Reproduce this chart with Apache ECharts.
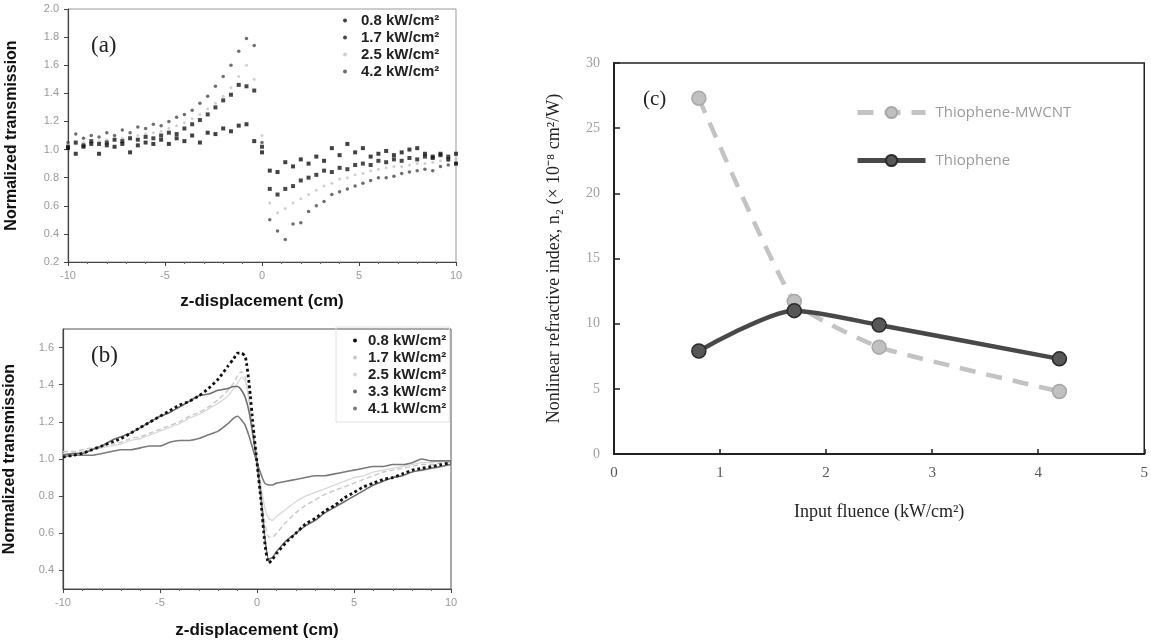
<!DOCTYPE html>
<html>
<head>
<meta charset="utf-8">
<script src="https://cdn.jsdelivr.net/npm/echarts@6/dist/echarts.min.js"></script>
<style>
html, body { margin: 0; padding: 0; background: #fff; }
#chart { width: 1151px; height: 640px; }
</style>
</head>
<body>
<div id="chart"></div>
<script>
/* 图 (a) ：z 扫描散点 */
var zA = [-10, -9.6, -9.2, -8.8, -8.4, -8, -7.6, -7.2, -6.8, -6.4, -6, -5.6, -5.2, -4.8, -4.4, -4, -3.6, -3.2, -2.8, -2.4, -2, -1.6, -1.2, -0.8, -0.4, 0,
	0.4, 0.8, 1.2, 1.6, 2, 2.4, 2.8, 3.2, 3.6, 4, 4.4, 4.8, 5.2, 5.6, 6, 6.4, 6.8, 7.2, 7.6, 8, 8.4, 8.8, 9.2, 9.6, 10];
var namesA = ["0.8 kW/cm²", "1.7 kW/cm²", "2.5 kW/cm²", "4.2 kW/cm²"];
var a08 = [1.01, 0.97, 1.02, 1.04, 0.97, 1.03, 1.02, 1.04, 0.98, 1.03, 1.05, 1.04, 1.07, 1.04, 1.08, 1.06, 1.10, 1.05, 1.12, 1.11, 1.15, 1.13, 1.17, 1.18, 1.06, 0.98,
	0.85, 0.84, 0.91, 0.88, 0.93, 0.90, 0.95, 0.92, 1.01, 0.96, 1.04, 0.98, 1.01, 0.95, 0.97, 0.99, 0.96, 0.98, 1.00, 1.01, 0.97, 0.95, 0.97, 0.93, 0.90];
var a17 = [1.02, 1.05, 1.03, 1.06, 1.04, 1.05, 1.07, 1.06, 1.08, 1.07, 1.09, 1.08, 1.10, 1.12, 1.11, 1.15, 1.18, 1.21, 1.25, 1.30, 1.35, 1.39, 1.46, 1.45, 1.42, 1.02,
	0.72, 0.68, 0.72, 0.74, 0.78, 0.80, 0.82, 0.85, 0.84, 0.87, 0.86, 0.89, 0.90, 0.89, 0.92, 0.91, 0.93, 0.92, 0.94, 0.93, 0.95, 0.94, 0.96, 0.95, 0.97];
var a25 = [1.03, 1.04, 1.05, 1.05, 1.06, 1.07, 1.07, 1.08, 1.09, 1.10, 1.11, 1.12, 1.13, 1.15, 1.17, 1.19, 1.22, 1.25, 1.29, 1.33, 1.38, 1.44, 1.52, 1.60, 1.50, 1.10,
	0.62, 0.55, 0.58, 0.62, 0.65, 0.68, 0.71, 0.74, 0.76, 0.79, 0.80, 0.82, 0.83, 0.85, 0.86, 0.87, 0.88, 0.88, 0.89, 0.90, 0.90, 0.91, 0.92, 0.92, 0.93];
var a42 = [1.05, 1.11, 1.08, 1.10, 1.09, 1.12, 1.10, 1.14, 1.12, 1.16, 1.15, 1.18, 1.17, 1.20, 1.23, 1.25, 1.28, 1.33, 1.38, 1.45, 1.52, 1.60, 1.70, 1.79, 1.74, 1.05,
	0.50, 0.42, 0.36, 0.47, 0.48, 0.56, 0.60, 0.63, 0.68, 0.70, 0.72, 0.74, 0.76, 0.78, 0.80, 0.80, 0.81, 0.83, 0.84, 0.85, 0.86, 0.85, 0.88, 0.89, 0.90];

/* 图 (b) ：z 扫描曲线 */
var zB = [-10, -9.5, -9, -8.5, -8, -7.5, -7, -6.5, -6, -5.5, -5, -4.5, -4, -3.5, -3, -2.5, -2, -1.5,
	-1.2, -1, -0.8, -0.6, -0.4, -0.2, 0, 0.2, 0.4, 0.6, 0.8, 1,
	1.5, 2, 2.5, 3, 3.5, 4, 4.5, 5, 5.5, 6, 6.5, 7, 7.5, 8, 8.5, 9, 9.5, 10];
var namesB = ["0.8 kW/cm²\u200b", "1.7 kW/cm²\u200b", "2.5 kW/cm²\u200b", "3.3 kW/cm²\u200b", "4.1 kW/cm²\u200b"];
var b08 = [1.01, 1.02, 1.03, 1.05, 1.07, 1.09, 1.11, 1.14, 1.17, 1.20, 1.23, 1.26, 1.29, 1.31, 1.34, 1.38, 1.43, 1.50,
	1.54, 1.57, 1.57, 1.55, 1.40, 1.18, 0.98, 0.78, 0.55, 0.44, 0.46, 0.49,
	0.55, 0.60, 0.65, 0.68, 0.72, 0.75, 0.79, 0.82, 0.85, 0.87, 0.89, 0.90, 0.92, 0.94, 0.95, 0.96, 0.97, 0.98];
var b17 = [1.04, 1.04, 1.05, 1.06, 1.07, 1.08, 1.09, 1.11, 1.12, 1.14, 1.16, 1.18, 1.20, 1.23, 1.25, 1.28, 1.32, 1.37,
	1.41, 1.45, 1.47, 1.44, 1.32, 1.16, 1.00, 0.82, 0.66, 0.58, 0.58, 0.60,
	0.66, 0.71, 0.75, 0.78, 0.81, 0.83, 0.85, 0.87, 0.89, 0.91, 0.93, 0.94, 0.95, 0.96, 0.97, 0.97, 0.98, 0.98];
var b25 = [1.03, 1.03, 1.04, 1.05, 1.06, 1.07, 1.08, 1.10, 1.11, 1.13, 1.15, 1.17, 1.19, 1.22, 1.24, 1.27, 1.30, 1.34,
	1.38, 1.41, 1.44, 1.42, 1.30, 1.14, 0.99, 0.86, 0.74, 0.68, 0.67, 0.69,
	0.73, 0.77, 0.80, 0.82, 0.84, 0.86, 0.88, 0.90, 0.91, 0.93, 0.94, 0.95, 0.96, 0.97, 0.98, 0.98, 0.99, 0.99];
var b33 = [1.02, 1.03, 1.03, 1.05, 1.07, 1.10, 1.12, 1.14, 1.17, 1.20, 1.23, 1.25, 1.28, 1.31, 1.34, 1.35, 1.37, 1.38,
	1.39, 1.39, 1.37, 1.33, 1.25, 1.12, 0.98, 0.80, 0.58, 0.46, 0.47, 0.50,
	0.56, 0.60, 0.64, 0.67, 0.71, 0.74, 0.77, 0.80, 0.83, 0.86, 0.88, 0.90, 0.91, 0.93, 0.94, 0.95, 0.96, 0.97];
var b41 = [1.01, 1.02, 1.02, 1.02, 1.03, 1.04, 1.05, 1.05, 1.06, 1.07, 1.07, 1.09, 1.10, 1.10, 1.11, 1.13, 1.15, 1.19,
	1.22, 1.23, 1.21, 1.18, 1.12, 1.05, 0.98, 0.92, 0.87, 0.86, 0.86, 0.87,
	0.88, 0.89, 0.90, 0.91, 0.91, 0.92, 0.93, 0.94, 0.95, 0.96, 0.96, 0.97, 0.97, 0.98, 1.00, 0.99, 0.99, 0.99];
var ticksB = [0.4, 0.6, 0.8, 1.0, 1.2, 1.4, 1.6];

/* 图 (c) ：非线性折射率 */
var fluence = [0.8, 1.7, 2.5, 4.2];
var n2Mwcnt = [27.3, 11.7, 8.2, 4.8];
var n2Thio = [7.9, 11.0, 9.9, 7.3];

function pairs(xs, ys) {
	var out = [];
	for(var i = 0; i < xs.length; i++) {
		out.push([xs[i], ys[i]]);
	}
	return out;
}

var sans = "Liberation Sans";
var serif = "Liberation Serif";

var chart = echarts.init(document.getElementById("chart"));

function zAxisX(gridIndex) {
	return {
		type: "value", gridIndex: gridIndex, min: -10, max: 10, interval: 5,
		name: "z-displacement (cm)", nameLocation: "middle", nameGap: gridIndex == 0 ? 31 : 33,
		nameTextStyle: { fontFamily: sans, fontWeight: "bold", fontSize: 17, color: "#111" },
		axisLine: { onZero: false, lineStyle: { color: "#444", width: 1.2 } },
		axisTick: { length: 4, lineStyle: { color: "#444" } },
		minorTick: { show: true, splitNumber: 5, length: 2, lineStyle: { color: "#666" } },
		axisLabel: { fontFamily: sans, fontSize: 11, color: "#999", margin: 8 },
		splitLine: { show: false }
	};
}

function zAxisY(gridIndex) {
	var ax = {
		type: "value", gridIndex: gridIndex,
		name: "Normalized transmission", nameLocation: "middle", nameGap: gridIndex == 0 ? 48 : 45,
		nameTextStyle: { fontFamily: sans, fontWeight: "bold", fontSize: 16, color: "#111" },
		axisLine: { show: true, onZero: false, lineStyle: { color: "#444", width: 1.2 } },
		axisTick: { show: true, length: 4, lineStyle: { color: "#444" } },
		axisLabel: {
			fontFamily: sans, fontSize: 11, color: "#999", margin: 9,
			formatter: function(v) { return v.toFixed(1); }
		},
		splitLine: { show: false }
	};
	if(gridIndex == 0) {
		ax.min = 0.2; ax.max = 2.0; ax.interval = 0.2;
	} else {
		ax.min = 0.3; ax.max = 1.7;
		ax.axisLabel.customValues = ticksB;
		ax.axisTick.customValues = ticksB;
	}
	return ax;
}

var seriesList = [];
/* (a) 散点 */
var aData = [a08, a17, a25, a42];
var aColor = ["#111", "#1a1a1a", "#c4c4c4", "#4a4a4a"];
var aSize = [4, 4, 3, 3.5];
var aSym = ["rect", "rect", "circle", "circle"];
for(var i = 0; i < aData.length; i++) {
	seriesList.push({
		name: namesA[i], type: "scatter", xAxisIndex: 0, yAxisIndex: 0,
		symbol: aSym[i], symbolSize: aSize[i],
		itemStyle: { color: aColor[i] },
		data: pairs(zA, aData[i]), z: 10 - i
	});
}
/* (b) 曲线 */
var bData = [b08, b17, b25, b33, b41];
var bColor = ["#111", "#c8c8c8", "#d6d6d6", "#6e6e6e", "#7a7a7a"];
var bType = ["dotted", [5, 3], "solid", "solid", "solid"];
var bWidth = [2.8, 1.4, 1.2, 1.6, 1.6];
for(var j = 0; j < bData.length; j++) {
	seriesList.push({
		name: namesB[j], type: "line", xAxisIndex: 1, yAxisIndex: 1,
		showSymbol: false, symbol: "none", smooth: 0.2,
		lineStyle: { color: bColor[j], width: bWidth[j], type: bType[j] },
		itemStyle: { color: bColor[j] },
		data: pairs(zB, bData[j]), z: j == 0 ? 10 : 5
	});
}
/* (c) */
seriesList.push({
	name: "Thiophene-MWCNT", type: "line", xAxisIndex: 2, yAxisIndex: 2,
	smooth: 0.15, symbol: "circle", symbolSize: 14,
	lineStyle: { color: "#c3c3c3", width: 4.5, type: [16, 11] },
	itemStyle: { color: "#c0c0c0", borderColor: "#a8a8a8", borderWidth: 1.5 },
	data: pairs(fluence, n2Mwcnt)
});
seriesList.push({
	name: "Thiophene", type: "line", xAxisIndex: 2, yAxisIndex: 2,
	smooth: 0.25, symbol: "circle", symbolSize: 14,
	lineStyle: { color: "#484848", width: 4.5 },
	itemStyle: { color: "#575757", borderColor: "#2a2a2a", borderWidth: 1.5 },
	data: pairs(fluence, n2Thio)
});

function dotItems(names) {
	return names.map(function(n) { return { name: n, icon: "circle" }; });
}

var legendText = { fontFamily: sans, fontWeight: "bold", fontSize: 15, color: "#222", lineHeight: 15 };

var option = {
	animation: false,
	backgroundColor: "#fff",
	title: [
		{ text: "(a)", left: 86, top: 29, textStyle: { fontFamily: serif, fontSize: 23, fontWeight: "normal", color: "#222" } },
		{ text: "(b)", left: 86, top: 339, textStyle: { fontFamily: serif, fontSize: 23, fontWeight: "normal", color: "#222" } },
		{ text: "(c)", left: 638, top: 84, textStyle: { fontFamily: serif, fontSize: 21, fontWeight: "normal", color: "#222" } }
	],
	grid: [
		{ left: 68, top: 9, width: 388, height: 253, show: true, borderColor: "#999", borderWidth: 1 },
		{ left: 63, top: 329, width: 388, height: 266, show: true, borderColor: "#555", borderWidth: 1 },
		{ left: 614, top: 63, width: 533, height: 391, show: true, borderColor: "#222", borderWidth: 1.5 }
	],
	legend: [{
		data: dotItems(namesA), orient: "vertical", left: 338, top: 8,
		padding: [5, 5, 5, 5],
		itemWidth: 4, itemHeight: 4, itemGap: 2,
		textStyle: Object.assign({}, legendText, { padding: [0, 0, 0, 9] })
	}, {
		data: dotItems(namesB), orient: "vertical", left: 336, top: 327,
		padding: [6, 3, 6, 17], borderColor: "#e2e2e2", borderWidth: 1,
		itemWidth: 4, itemHeight: 4, itemGap: 2,
		textStyle: Object.assign({}, legendText, { padding: [0, 0, 0, 6] })
	}, {
		data: ["Thiophene-MWCNT", "Thiophene"], orient: "vertical", left: 850, top: 100,
		itemWidth: 68, itemHeight: 14, itemGap: 33,
		lineStyle: { width: 5 },
		textStyle: { fontFamily: "Open Sans", fontSize: 15, color: "#9a9a9a", padding: [0, 0, 0, 5] }
	}],
	xAxis: [zAxisX(0), zAxisX(1), {
		type: "value", gridIndex: 2, min: 0, max: 5, interval: 1,
		name: "Input fluence (kW/cm²)", nameLocation: "middle", nameGap: 49,
		nameTextStyle: { fontFamily: serif, fontSize: 18, color: "#222" },
		axisLine: { lineStyle: { color: "#222", width: 2 } },
		axisTick: { inside: true, length: 5, lineStyle: { color: "#222", width: 1.5 } },
		axisLabel: { fontFamily: serif, fontSize: 15, color: "#555", margin: 12 },
		splitLine: { show: false }
	}],
	yAxis: [zAxisY(0), zAxisY(1), {
		type: "value", gridIndex: 2, min: 0, max: 30, interval: 5,
		name: "Nonlinear refractive index, n₂ (× 10⁻⁸ cm²/W)", nameLocation: "middle", nameGap: 51,
		nameTextStyle: { fontFamily: serif, fontSize: 18, color: "#222" },
		axisLine: { show: true, lineStyle: { color: "#222", width: 2 } },
		axisTick: { show: true, inside: true, length: 6, lineStyle: { color: "#222", width: 1.5 } },
		axisLabel: { fontFamily: serif, fontSize: 14, color: "#a0a0a0", margin: 14 },
		splitLine: { show: false }
	}],
	series: seriesList
};

chart.setOption(option);
</script>
</body>
</html>
